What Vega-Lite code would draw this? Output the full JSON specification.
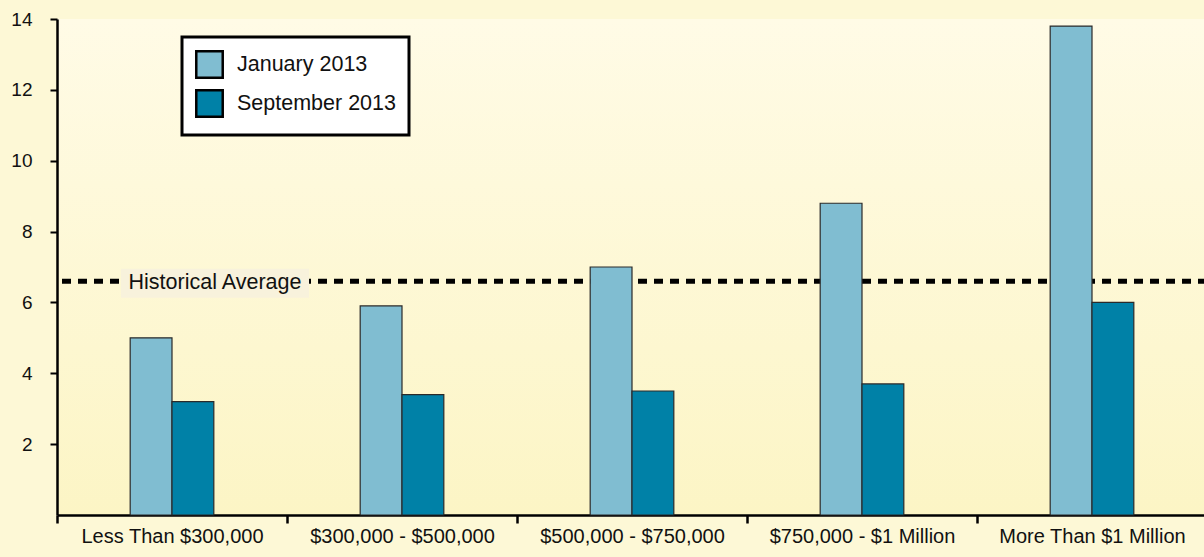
{
  "$schema": "https://vega.github.io/schema/vega-lite/v6.json",
  "width": 1150,
  "height": 496,
  "autosize": {"type": "none"},
  "padding": {"left": 57, "top": 19, "right": 0, "bottom": 42},
  "background": "#fdf8d6",
  "config": {
    "font": "Liberation Sans",
    "legend": {"strokeWidth": 3},
    "view": {
      "stroke": null,
      "fill": {
        "gradient": "linear",
        "x1": 0, "y1": 0, "x2": 0, "y2": 1,
        "stops": [
          {"offset": 0, "color": "#fffbe6"},
          {"offset": 1, "color": "#fcf5c5"}
        ]
      }
    }
  },
  "data": {
    "values": [
      {"category": "Less Than $300,000", "series": "January 2013", "value": 5.0},
      {"category": "Less Than $300,000", "series": "September 2013", "value": 3.2},
      {"category": "$300,000 - $500,000", "series": "January 2013", "value": 5.9},
      {"category": "$300,000 - $500,000", "series": "September 2013", "value": 3.4},
      {"category": "$500,000 - $750,000", "series": "January 2013", "value": 7.0},
      {"category": "$500,000 - $750,000", "series": "September 2013", "value": 3.5},
      {"category": "$750,000 - $1 Million", "series": "January 2013", "value": 8.8},
      {"category": "$750,000 - $1 Million", "series": "September 2013", "value": 3.7},
      {"category": "More Than $1 Million", "series": "January 2013", "value": 13.8},
      {"category": "More Than $1 Million", "series": "September 2013", "value": 6.0}
    ]
  },
  "layer": [
    {
      "data": {"values": [{"label": "Historical Average", "average": 6.6}]},
      "mark": {"type": "rule", "strokeDash": [9, 7], "strokeWidth": 5, "color": "#000000"},
      "encoding": {"y": {"field": "average", "type": "quantitative"}}
    },
    {
      "data": {"values": [{"label": "Historical Average", "average": 6.6}]},
      "mark": {"type": "bar", "width": 188, "xOffset": 43, "color": "#f8f2dc"},
      "encoding": {
        "x": {"datum": "Less Than $300,000", "type": "nominal"},
        "y": {"datum": 6.13, "type": "quantitative"},
        "y2": {"datum": 6.95}
      }
    },
    {
      "data": {"values": [{"label": "Historical Average", "average": 6.6}]},
      "mark": {"type": "text", "fontSize": 21.5, "dx": 43, "dy": 2, "color": "#111111"},
      "encoding": {
        "x": {"datum": "Less Than $300,000", "type": "nominal"},
        "y": {"field": "average", "type": "quantitative"},
        "text": {"field": "label"}
      }
    },
    {
      "mark": {"type": "bar", "stroke": "#2a2a2a", "strokeWidth": 1.2},
      "encoding": {
        "x": {
          "field": "category",
          "type": "nominal",
          "sort": null,
          "title": null,
          "scale": {"paddingInner": 0, "paddingOuter": 0},
          "axis": {
            "tickBand": "extent",
            "labelAngle": 0,
            "labelAlign": "center",
            "labelLimit": 400,
            "labelFlush": false,
            "labelFontSize": 20,
            "labelColor": "#111111",
            "labelPadding": 13,
            "domainColor": "#000000",
            "domainWidth": 2.5,
            "tickColor": "#000000",
            "tickWidth": 2.5,
            "tickSize": 8,
            "grid": false
          }
        },
        "xOffset": {
          "field": "series",
          "type": "nominal",
          "scale": {"domain": ["_left", "January 2013", "September 2013", "_right"], "paddingInner": 0, "paddingOuter": 0.75}
        },
        "y": {
          "field": "value",
          "type": "quantitative",
          "title": null,
          "scale": {"domain": [0, 14], "nice": false},
          "axis": {
            "values": [2, 4, 6, 8, 10, 12, 14],
            "labelFontSize": 19,
            "labelColor": "#111111",
            "labelPadding": 18,
            "domainColor": "#000000",
            "domainWidth": 2.5,
            "tickColor": "#000000",
            "tickWidth": 2,
            "tickSize": 7,
            "grid": false
          }
        },
        "color": {
          "field": "series",
          "type": "nominal",
          "scale": {"domain": ["January 2013", "September 2013"], "range": ["#80bdd1", "#0081a7"]},
          "legend": {
            "title": null,
            "orient": "none",
            "legendX": 125,
            "legendY": 18,
            "fillColor": "#ffffff",
            "strokeColor": "#000000",
            "padding": 13,
            "rowPadding": 2,
            "symbolType": "square",
            "symbolSize": 700,
            "symbolStrokeColor": "#000000",
            "symbolStrokeWidth": 2.5,
            "symbolOpacity": 1,
            "labelFontSize": 21.5,
            "labelColor": "#111111",
            "labelOffset": 13,
            "labelLimit": 300
          }
        }
      }
    }
  ]
}
